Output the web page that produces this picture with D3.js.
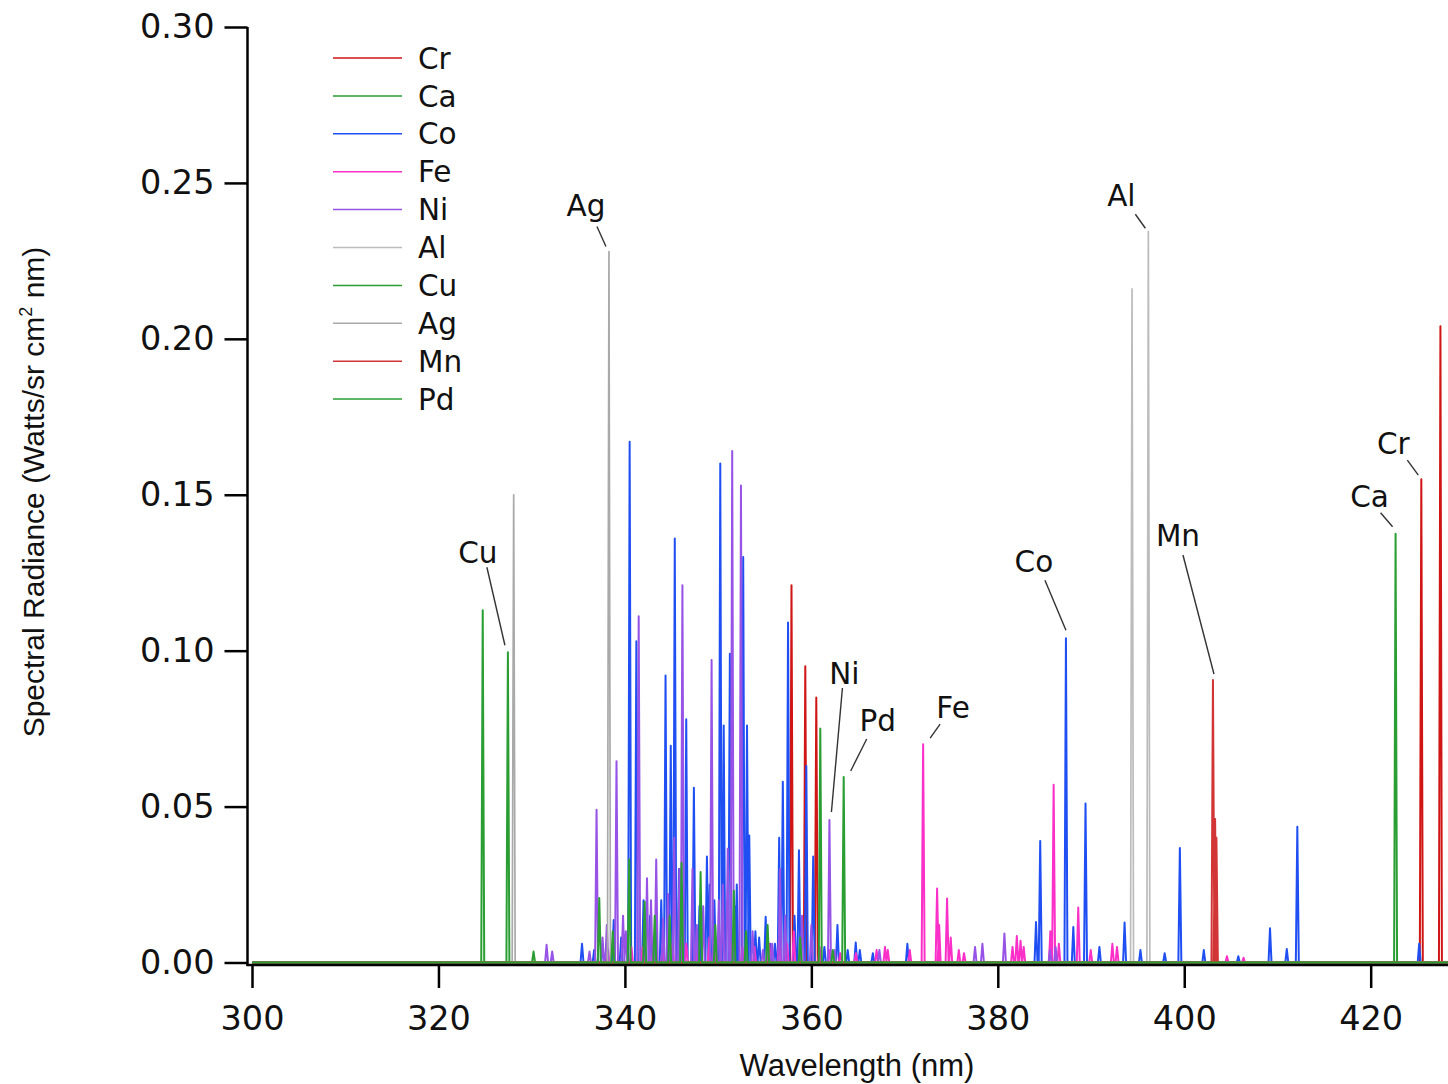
<!DOCTYPE html>
<html>
<head>
<meta charset="utf-8">
<script src="https://cdn.jsdelivr.net/npm/d3@7"></script>
<style>
  body { margin: 0; background: #fff; }
  svg { display: block; }
</style>
</head>
<body>
<script>
// axis ticks
const wavelengthTicks = [300, 320, 340, 360, 380, 400, 420];
const radianceTicks = [0, 0.05, 0.10, 0.15, 0.20, 0.25, 0.30];

// legend / draw order
const elements = ["Cr", "Ca", "Co", "Fe", "Ni", "Al", "Cu", "Ag", "Mn", "Pd"];

// emission lines: [wavelength nm, radiance]
const crLines = [[357.87, 0.121], [359.35, 0.095], [360.53, 0.085], [425.43, 0.155], [427.48, 0.204]];
const caLines = [[422.67, 0.1375]];
const coLines = [
  [335.4, 0.006], [336.7, 0.004], [337.6, 0.006], [338.8, 0.0136], [339.6, 0.008], [340.51, 0.167],
  [341.23, 0.103], [342.0, 0.02], [342.7, 0.015], [343.3, 0.012], [343.9, 0.02], [344.36, 0.092],
  [344.92, 0.0695], [345.35, 0.136], [345.8, 0.03], [346.2, 0.025], [346.58, 0.078], [347.40, 0.056],
  [347.9, 0.012], [348.0, 0.018], [348.8, 0.034], [349.1, 0.025], [349.6, 0.02], [350.23, 0.160],
  [350.6, 0.076], [351.26, 0.099], [351.9, 0.018], [352.0, 0.025], [352.69, 0.130], [353.1, 0.076],
  [353.34, 0.0407], [354.0, 0.01], [354.4, 0.008], [355.1, 0.0147], [355.6, 0.006], [356.1, 0.006],
  [356.55, 0.040], [356.94, 0.058], [357.5, 0.109], [358.2, 0.015], [358.67, 0.036], [359.46, 0.063],
  [360.2, 0.034], [361.4, 0.005], [362.8, 0.012], [363.9, 0.004], [364.76, 0.0064], [365.2, 0.004],
  [366.6, 0.003], [370.3, 0.006], [384.1, 0.013], [384.55, 0.039], [387.31, 0.104], [388.1, 0.0114],
  [389.41, 0.051], [390.9, 0.005], [393.6, 0.0128], [395.3, 0.004], [397.9, 0.003], [399.53, 0.0367],
  [402.1, 0.004], [405.8, 0.002], [409.2, 0.011], [411.0, 0.0043], [412.13, 0.0435], [425.2, 0.006]
];
const feLines = [
  [338.2, 0.004], [340.7, 0.005], [341.9, 0.005], [343.0, 0.004], [344.06, 0.006], [345.1, 0.006],
  [346.59, 0.006], [347.55, 0.005], [349.06, 0.008], [349.78, 0.005], [351.4, 0.006], [352.6, 0.005],
  [353.9, 0.005], [355.49, 0.006], [356.54, 0.008], [357.4, 0.006], [358.12, 0.010], [360.89, 0.005],
  [361.9, 0.004], [363.1, 0.003], [364.78, 0.003], [367.0, 0.004], [367.9, 0.005], [368.2, 0.004],
  [370.56, 0.004], [371.99, 0.070], [373.49, 0.0237], [373.71, 0.012], [374.56, 0.0205], [374.95, 0.008],
  [375.82, 0.004], [376.38, 0.003], [381.58, 0.005], [382.04, 0.0085], [382.44, 0.007], [382.78, 0.005],
  [385.64, 0.010], [385.99, 0.057], [386.55, 0.006], [388.63, 0.0176], [389.97, 0.004], [392.29, 0.006],
  [392.79, 0.005], [404.58, 0.002], [406.36, 0.0015]
];
const niLines = [
  [331.6, 0.0057], [332.2, 0.0035], [336.2, 0.0035], [336.96, 0.049], [337.6, 0.008], [338.06, 0.012],
  [339.1, 0.0645], [339.8, 0.015], [340.1, 0.01], [341.48, 0.111], [342.37, 0.027], [342.8, 0.02],
  [343.36, 0.033], [344.1, 0.014], [344.63, 0.022], [345.29, 0.04], [345.85, 0.03], [346.17, 0.121],
  [347.25, 0.03], [347.7, 0.012], [348.4, 0.018], [349.30, 0.097], [350.08, 0.02], [350.5, 0.025],
  [351.03, 0.0365], [351.51, 0.164], [352.45, 0.153], [353.7, 0.01], [354.8, 0.004], [355.8, 0.006],
  [356.64, 0.03], [357.2, 0.015], [359.0, 0.015], [360.0, 0.012], [361.94, 0.0457], [362.5, 0.004],
  [367.3, 0.004], [377.56, 0.005], [378.35, 0.006], [380.71, 0.0093], [385.6, 0.004], [386.2, 0.005]
];
const alLines = [[394.40, 0.216], [396.15, 0.2345]];
const cuLines = [[324.75, 0.113], [327.45, 0.0995], [330.2, 0.0035]];
const agLines = [[328.07, 0.150], [338.29, 0.228]];
const mnLines = [[403.08, 0.0906], [403.31, 0.046], [403.45, 0.040]];
const pdLines = [
  [337.25, 0.0207], [338.7, 0.01], [340.46, 0.033], [342.12, 0.0195], [343.2, 0.015], [344.8, 0.015],
  [346.08, 0.032], [348.12, 0.029], [349.7, 0.012], [351.69, 0.023], [353.0, 0.01], [355.31, 0.012],
  [358.8, 0.008], [360.96, 0.075], [362.3, 0.004], [363.47, 0.0595]
];

// labelled lines: [element, wavelength, radiance]
const callouts = [
  ["Cu", 327.45, 0.0995], ["Ag", 338.29, 0.228], ["Al", 396.15, 0.2345], ["Ni", 361.94, 0.0457],
  ["Pd", 363.47, 0.0595], ["Fe", 371.99, 0.070], ["Co", 387.31, 0.104], ["Mn", 403.08, 0.0906],
  ["Ca", 422.67, 0.1375], ["Cr", 425.43, 0.155]
];

const spectra = {Cr: crLines, Ca: caLines, Co: coLines, Fe: feLines, Ni: niLines,
  Al: alLines, Cu: cuLines, Ag: agLines, Mn: mnLines, Pd: pdLines};

const colors = {Cr: "#d01515", Ca: "#2a9e32", Co: "#1f4ff2", Fe: "#fa30c8", Ni: "#9752e6",
  Al: "#bcbcbc", Cu: "#2a9e32", Ag: "#a9a9a9", Mn: "#d23535", Pd: "#2a9e32"};

// text / leader offsets from the peak top, in px
const calloutLayout = {
  Cu: {text: [-30, -100], from: [-21, -85], to: [-3, -7]},
  Ag: {text: [-23, -46], from: [-12, -25], to: [-3, -5]},
  Al: {text: [-27, -36], from: [-13, -17], to: [-3, -3]},
  Ni: {text: [15, -147], from: [13, -132], to: [2, -8]},
  Pd: {text: [34, -57], from: [23, -38], to: [7, -6]},
  Fe: {text: [30, -37], from: [17, -20], to: [7, -6]},
  Co: {text: [-32, -77], from: [-21, -58], to: [0, -8]},
  Mn: {text: [-35, -145], from: [-30, -125], to: [1, -6]},
  Ca: {text: [-26, -37], from: [-15, -21], to: [-3, -7]},
  Cr: {text: [-28, -36], from: [-14, -19], to: [-3, -4]}
};

const width = 1448, height = 1084;
const x0 = 300, x1 = 428.4;
const halfWidth = 0.16;

const svg = d3.select("body").append("svg")
    .attr("width", width)
    .attr("height", height);

const x = d3.scaleLinear().domain([x0, x1]).range([252, 1449]);
const y = d3.scaleLinear().domain([0, 0.30]).range([962.5, 27]);

const line = d3.line()
    .x(d => x(d[0]))
    .y(d => y(d[1]));

// spikes on a zero baseline
function profile(peaks) {
  const pts = [[x0, 0]];
  peaks.slice().sort((a, b) => a[0] - b[0]).forEach(([w, v]) => {
    pts.push([w - halfWidth, 0], [w, v], [w + halfWidth, 0]);
  });
  pts.push([x1, 0]);
  return pts;
}

svg.append("g")
  .selectAll("path")
  .data(elements)
  .join("path")
    .attr("fill", "none")
    .attr("stroke", d => colors[d])
    .attr("stroke-width", d => (d === "Al" || d === "Ag") ? 1.7 : 2)
    .attr("stroke-linejoin", "round")
    .attr("d", d => line(profile(spectra[d])));

// axes
const xAxis = svg.append("g")
    .attr("transform", "translate(0,965)")
    .call(d3.axisBottom(x).tickValues(wavelengthTicks).tickSize(23).tickPadding(18).tickSizeOuter(0));
xAxis.select(".domain").remove();
svg.append("line")
    .attr("x1", 246.5).attr("x2", width)
    .attr("y1", 965).attr("y2", 965)
    .attr("stroke", "#000").attr("stroke-width", 2.5);

const yAxis = svg.append("g")
    .attr("transform", "translate(247.5,0)")
    .call(d3.axisLeft(y).tickValues(radianceTicks).tickFormat(d3.format(".2f"))
      .tickSize(23).tickPadding(10).tickSizeOuter(0));
yAxis.select(".domain").remove();
svg.append("line")
    .attr("x1", 247.5).attr("x2", 247.5)
    .attr("y1", y(0.30)).attr("y2", 966)
    .attr("stroke", "#000").attr("stroke-width", 2.5);

svg.selectAll(".tick line").attr("stroke", "#000").attr("stroke-width", 2.5);
svg.selectAll(".tick text")
    .attr("fill", "#111")
    .style("font-family", "'DejaVu Sans', Verdana, sans-serif")
    .style("font-size", "33.5px");

// axis titles
svg.append("text")
    .attr("x", 857).attr("y", 1076)
    .attr("text-anchor", "middle")
    .style("font-family", "'Liberation Sans', Arial, sans-serif")
    .style("font-size", "31px")
    .attr("fill", "#111")
    .text("Wavelength (nm)");

const yTitle = svg.append("text")
    .attr("transform", "translate(44,492) rotate(-90)")
    .attr("text-anchor", "middle")
    .style("font-family", "'Liberation Sans', Arial, sans-serif")
    .style("font-size", "30px")
    .attr("fill", "#111");
yTitle.append("tspan").text("Spectral Radiance (Watts/sr cm");
yTitle.append("tspan").attr("dy", -12).style("font-size", "18px").text("2");
yTitle.append("tspan").attr("dy", 12).text(" nm)");

// legend
const legend = svg.append("g")
  .selectAll("g")
  .data(elements)
  .join("g")
    .attr("transform", (d, i) => `translate(333,${58 + i * 37.9})`);
legend.append("line")
    .attr("x1", 0).attr("x2", 69)
    .attr("stroke", d => colors[d])
    .attr("stroke-width", 1.5);
legend.append("text")
    .attr("x", 85)
    .attr("dy", "0.36em")
    .style("font-family", "'DejaVu Sans', Verdana, sans-serif")
    .style("font-size", "29.5px")
    .attr("fill", "#111")
    .text(d => d);

// peak callouts
const notes = svg.append("g")
  .selectAll("g")
  .data(callouts)
  .join("g")
    .attr("transform", d => `translate(${x(d[1])},${y(d[2])})`);
notes.append("line")
    .attr("x1", d => calloutLayout[d[0]].from[0])
    .attr("y1", d => calloutLayout[d[0]].from[1])
    .attr("x2", d => calloutLayout[d[0]].to[0])
    .attr("y2", d => calloutLayout[d[0]].to[1])
    .attr("stroke", "#333")
    .attr("stroke-width", 1.4);
notes.append("text")
    .attr("x", d => calloutLayout[d[0]].text[0])
    .attr("y", d => calloutLayout[d[0]].text[1])
    .attr("dy", "0.36em")
    .attr("text-anchor", "middle")
    .style("font-family", "'DejaVu Sans', Verdana, sans-serif")
    .style("font-size", "29.5px")
    .attr("fill", "#111")
    .text(d => d[0]);
</script>
</body>
</html>
